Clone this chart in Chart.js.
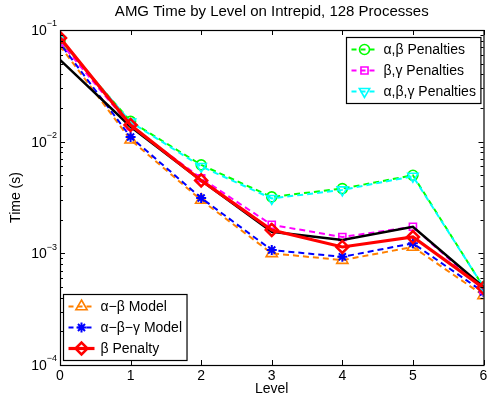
<!DOCTYPE html>
<html>
<head>
<meta charset="utf-8">
<script src="https://cdn.jsdelivr.net/npm/chart.js@4/dist/chart.umd.min.js"></script>
<style>
html,body{margin:0;padding:0;background:#fff;}
#wrap{width:492px;height:398px;}
</style>
</head>
<body>
<div id="wrap"><canvas id="c" width="492" height="398"></canvas></div>
<script>
// ---- data ----
const levels = [0, 1, 2, 3, 4, 5, 6];
const measured = [0.054, 0.0136, 0.0045, 0.00156, 0.00132, 0.00173, 0.00050];
const abPenalties = [0.080, 0.0152, 0.0062, 0.0032, 0.0038, 0.0050, 0.00050];
const bgPenalties = [0.078, 0.0138, 0.0047, 0.0018, 0.0014, 0.00173, 0.00047];
const abgPenalties = [0.082, 0.0150, 0.0060, 0.0031, 0.0037, 0.0049, 0.00050];
const abModel = [0.072, 0.0104, 0.0030, 0.0010, 0.00087, 0.00114, 0.00042];
const abgModel = [0.076, 0.0110, 0.00313, 0.00107, 0.00093, 0.00123, 0.00045];
const bPenalty = [0.085, 0.0141, 0.0045, 0.00162, 0.00114, 0.0014, 0.00049];
const yTickExponents = [-4, -3, -2, -1];
const xTickLabels = ['0', '1', '2', '3', '4', '5', '6'];
const legendTopRight = ['α,β Penalties', 'β,γ Penalties', 'α,β,γ Penalties'];
const legendBottomLeft = ['α−β Model', 'α−β−γ Model', 'β Penalty'];

const FONT = "'Liberation Sans', Arial, Helvetica, sans-serif";

function ds(label, data, color, opts) {
  return Object.assign({
    label, data, borderColor: color, pointBorderColor: color,
    backgroundColor: 'rgba(0,0,0,0)', pointBackgroundColor: 'rgba(0,0,0,0)',
    borderWidth: 2, pointRadius: 5, pointBorderWidth: 1.6, tension: 0,
    borderDash: [6, 4]
  }, opts);
}

const datasets = [
  ds(legendBottomLeft[0], abModel, '#ff8000', {pointStyle: 'triangle', order: 7, pointRadius: 6.5}),
  ds(legendBottomLeft[1], abgModel, '#0000ff', {pointStyle: 'star', order: 6, borderDashOffset: 5, pointBorderWidth: 2}),
  ds(legendTopRight[0], abPenalties, '#00ff00', {pointStyle: 'circle', order: 5}),
  ds(legendTopRight[1], bgPenalties, '#ff00ff', {pointStyle: 'rect', order: 4, pointRadius: 5}),
  ds(legendTopRight[2], abgPenalties, '#00ffff', {pointStyle: 'triangle', pointRotation: 180, order: 3, borderDashOffset: 5, pointRadius: 6}),
  ds('Measured', measured, '#000000', {pointRadius: 0, borderDash: [], borderWidth: 2.5, order: 2}),
  ds(legendBottomLeft[2], bPenalty, '#ff0000', {pointStyle: 'rectRot', borderDash: [], borderWidth: 3.2, pointRadius: 6, pointBorderWidth: 2.5, order: 1})
];
const legendGroups = [
  {labels: legendTopRight, corner: 'tr'},
  {labels: legendBottomLeft, corner: 'bl'}
];

const matlabPlugin = {
  id: 'matlab',
  afterDatasetsDraw(chart) {
    const ctx = chart.ctx, a = chart.chartArea;
    const xs = chart.scales.x, ys = chart.scales.y;
    ctx.save();
    ctx.strokeStyle = '#000';
    ctx.lineWidth = 1;
    // inside ticks
    ctx.beginPath();
    levels.forEach(v => {
      const px = Math.round(xs.getPixelForValue(v)) + 0.5;
      ctx.moveTo(px, a.bottom); ctx.lineTo(px, a.bottom - 5);
      ctx.moveTo(px, a.top); ctx.lineTo(px, a.top + 5);
    });
    for (let e = yTickExponents[0]; e <= yTickExponents[yTickExponents.length - 1]; e++) {
      for (let m = 1; m <= 9; m++) {
        const v = m * Math.pow(10, e);
        if (v > ys.max * 1.0001) continue;
        const py = Math.round(ys.getPixelForValue(v)) + 0.5;
        const len = m === 1 ? 5 : 3;
        ctx.moveTo(a.left, py); ctx.lineTo(a.left + len, py);
        ctx.moveTo(a.right, py); ctx.lineTo(a.right - len, py);
      }
    }
    ctx.stroke();
    // box
    ctx.lineWidth = 1.2;
    ctx.strokeRect(a.left + 0.5, a.top + 0.5, a.right - a.left, a.bottom - a.top);
    // y tick labels with superscripts
    ctx.fillStyle = '#000';
    ctx.textBaseline = 'middle';
    yTickExponents.forEach(e => {
      const py = ys.getPixelForValue(Math.pow(10, e));
      const sup = '−' + Math.abs(e);
      ctx.font = '9px ' + FONT;
      const sw = ctx.measureText(sup).width;
      const right = a.left - 3;
      ctx.textAlign = 'left';
      ctx.fillText(sup, right - sw, py - 6);
      ctx.font = '14px ' + FONT;
      ctx.textAlign = 'right';
      ctx.fillText('10', right - sw, py + 1);
    });
    ctx.restore();
  },
  afterDraw(chart) {
    const ctx = chart.ctx, a = chart.chartArea;
    ctx.save();
    ctx.font = '14px ' + FONT;
    legendGroups.forEach(g => {
      const items = g.labels.map(l => chart.data.datasets.find(d => d.label === l));
      const tw = Math.max(...g.labels.map(l => ctx.measureText(l).width));
      const rowH = 21, sample = 26, padL = 5, gap = 6;
      const w = padL + sample + gap + tw + 5;
      const h = rowH * items.length + 3;
      let x0, y0;
      if (g.corner === 'tr') { x0 = a.right - 3 - w; y0 = a.top + 7; }
      else { x0 = a.left + 3; y0 = a.bottom - 5 - h; }
      x0 = Math.round(x0) + 0.5; y0 = Math.round(y0) + 0.5;
      ctx.fillStyle = '#fff';
      ctx.fillRect(x0, y0, w, h);
      ctx.strokeStyle = '#000'; ctx.lineWidth = 1.2; ctx.setLineDash([]);
      ctx.strokeRect(x0, y0, w, h);
      items.forEach((d, i) => {
        const cy = y0 + 12 + i * rowH;
        const lx = x0 + padL;
        ctx.save();
        ctx.strokeStyle = d.borderColor;
        ctx.lineWidth = d.borderWidth;
        ctx.setLineDash(d.borderDash && d.borderDash.length ? [5, 4] : []);
        ctx.beginPath(); ctx.moveTo(lx, cy); ctx.lineTo(lx + sample, cy); ctx.stroke();
        ctx.setLineDash([]);
        ctx.lineWidth = d.pointBorderWidth;
        ctx.fillStyle = 'rgba(0,0,0,0)';
        Chart.helpers.drawPoint(ctx, {pointStyle: d.pointStyle, radius: d.pointRadius, rotation: d.pointRotation || 0, borderWidth: d.pointBorderWidth}, lx + sample / 2, cy);
        ctx.restore();
        ctx.fillStyle = '#000';
        ctx.textAlign = 'left'; ctx.textBaseline = 'middle';
        ctx.fillText(d.label, lx + sample + gap, cy + 1);
      });
    });
    ctx.restore();
  }
};

new Chart(document.getElementById('c'), {
  type: 'line',
  data: {labels: levels, datasets},
  options: {
    responsive: false, animation: false, devicePixelRatio: 1,
    layout: {padding: {left: 0, right: 6, top: 0, bottom: 0}},
    plugins: {
      legend: {display: false}, tooltip: {enabled: false},
      title: {display: true, fullSize: false, text: 'AMG Time by Level on Intrepid, 128 Processes',
        color: '#000', font: {family: FONT, size: 15, weight: 'normal', lineHeight: 1.2},
        padding: {top: 3, bottom: 9}}
    },
    scales: {
      x: {
        type: 'linear', min: 0, max: 6,
        afterBuildTicks: s => { s.ticks = levels.map(v => ({value: v})); },
        ticks: {color: '#000', font: {family: FONT, size: 14}, padding: 3,
          callback: (v) => xTickLabels[levels.indexOf(v)]},
        grid: {display: false, drawTicks: false},
        border: {display: false},
        title: {display: true, text: 'Level', color: '#000', font: {family: FONT, size: 14}, padding: {top: 0, bottom: 0}},
        afterFit: s => { s.height = 33; }
      },
      y: {
        type: 'logarithmic', min: 1e-4, max: 1e-1,
        afterBuildTicks: s => { s.ticks = yTickExponents.map(e => ({value: Math.pow(10, e)})); },
        ticks: {display: false},
        grid: {display: false, drawTicks: false},
        border: {display: false},
        title: {display: true, text: 'Time (s)', color: '#000', font: {family: FONT, size: 14}, padding: {top: 8, bottom: 0}},
        afterFit: s => { s.width = 60; }
      }
    }
  },
  plugins: [matlabPlugin]
});
</script>
</body>
</html>
